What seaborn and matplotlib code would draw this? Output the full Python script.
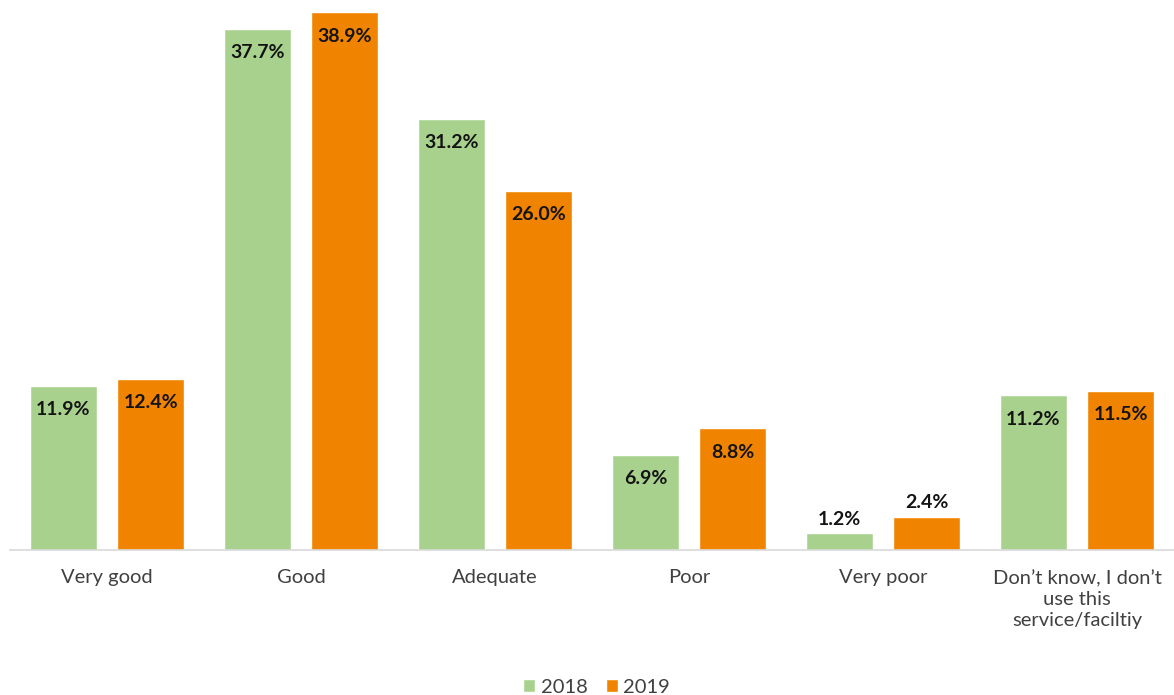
import matplotlib
matplotlib.use("Agg")
import matplotlib.pyplot as plt
import seaborn as sns
import pandas as pd

categories = ["Very good", "Good", "Adequate", "Poor", "Very poor",
              "Don\u2019t know, I don\u2019t\nuse this\nservice/faciltiy"]
values_2018 = [11.9, 37.7, 31.2, 6.9, 1.2, 11.2]
values_2019 = [12.4, 38.9, 26.0, 8.8, 2.4, 11.5]
years = ["2018", "2019"]

df = pd.DataFrame({
    "category": categories * 2,
    "value": values_2018 + values_2019,
    "year": [years[0]] * len(categories) + [years[1]] * len(categories),
})

sns.set_style("white")
plt.rcParams["font.family"] = ["Lato", "DejaVu Sans"]

fig = plt.figure(figsize=(11.74, 6.95), dpi=100)
ax = fig.add_axes([10 / 1174, 145 / 695, 1164 / 1174, 550 / 695])

palette = {"2018": "#A9D18E", "2019": "#F08400"}
sns.barplot(data=df, x="category", y="value", hue="year", palette=palette,
            width=0.9, gap=0.23, ax=ax, saturation=1, legend=True)

ax.set_ylim(0, 39.8)
ax.set_xlim(-0.5, 5.5)
ax.set_xlabel("")
ax.set_ylabel("")
ax.set_yticks([])
for s in ["top", "right", "left"]:
    ax.spines[s].set_visible(False)
ax.spines["bottom"].set_color("#D9D9D9")
ax.spines["bottom"].set_linewidth(1.2)
ax.tick_params(axis="x", length=0, pad=14, labelsize=14.5, labelcolor="#404040")
for t in ax.get_xticklabels():
    t.set_linespacing(1.3)

for container in ax.containers:
    for bar in container:
        h = bar.get_height()
        x = bar.get_x() + bar.get_width() / 2
        if h < 5:
            ax.annotate(f"{h:.1f}%", (x, h), xytext=(0, 4),
                        textcoords="offset points", ha="center", va="bottom",
                        fontsize=14, fontweight="bold", color="#141414")
        else:
            ax.annotate(f"{h:.1f}%", (x, h), xytext=(0, -11),
                        textcoords="offset points", ha="center", va="top",
                        fontsize=14, fontweight="bold", color="#141414")

handles, labels = ax.get_legend_handles_labels()
ax.get_legend().remove()
fig.legend(handles, labels, loc="lower center", bbox_to_anchor=(0.508, -0.027),
           ncol=2, frameon=False, fontsize=14.5, handlelength=0.6,
           handleheight=0.6, handletextpad=0.25, columnspacing=0.9,
           labelcolor="#404040")

fig.savefig("out.png", dpi=100)
